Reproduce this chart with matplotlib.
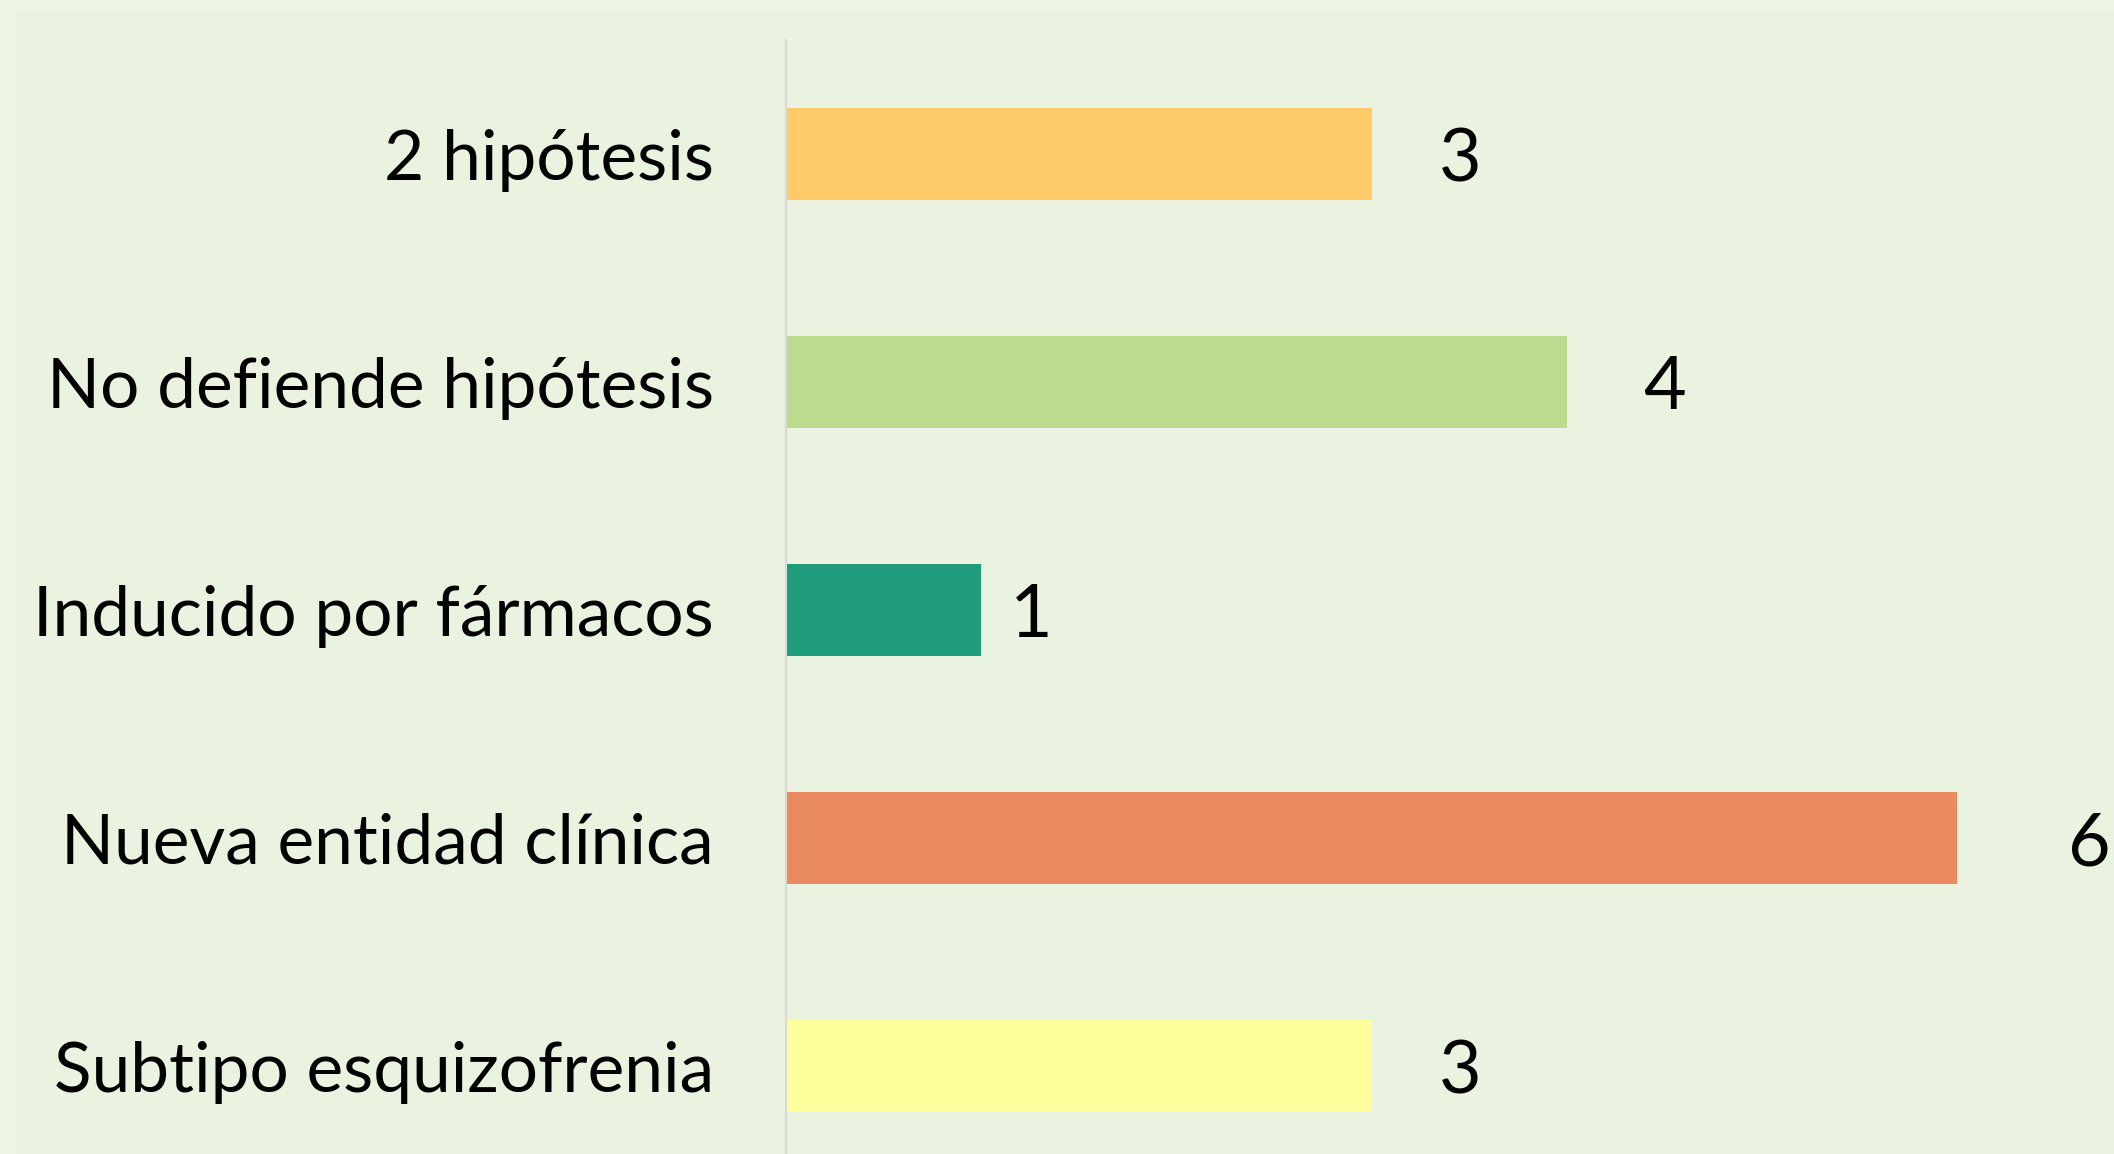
import matplotlib
matplotlib.use('Agg')
import matplotlib.pyplot as plt
from matplotlib.patches import Rectangle

# Chart data (top to bottom)
categories = ['2 hipótesis', 'No defiende hipótesis', 'Inducido por fármacos',
              'Nueva entidad clínica', 'Subtipo esquizofrenia']
values = [3, 4, 1, 6, 3]
colors = ['#FFCA67', '#BBDC8F', '#1E9C7C', '#E98A60', '#FDFD9B']

# label offsets from bar end (pixels), as placed in the original
label_offsets = [89, 98, 50, 132, 89]

plt.rcParams['font.family'] = ['Lato', 'DejaVu Sans']

fig = plt.figure(figsize=(21.14, 11.54), dpi=100)
fig.patch.set_facecolor('#EDF5E4')
# inner panel background
fig.add_artist(Rectangle((17 / 2114, 0), 1 - 17 / 2114, 1 - 10 / 1154,
                         transform=fig.transFigure, facecolor='#EAF3DF',
                         edgecolor='none', zorder=-5))

ax = fig.add_axes([786 / 2114, -26 / 1154, 6.8 * 195.2 / 2114, 1140 / 1154])
ax.set_facecolor('none')

pos = list(range(len(categories)))
ax.barh(pos, values, height=0.4, color=colors, zorder=2)
ax.set_ylim(-0.5, len(categories) - 0.5)
ax.invert_yaxis()
ax.set_xlim(0, 6.8)

ax.set_yticks(pos)
ax.set_yticklabels(categories, fontsize=50)
ax.tick_params(axis='y', length=0, pad=72 * 0.72)
ax.set_xticks([])

for s in ['top', 'right', 'bottom']:
    ax.spines[s].set_visible(False)
ax.spines['left'].set_color('#D9D9D9')
ax.spines['left'].set_linewidth(1.5)

for p, v, off in zip(pos, values, label_offsets):
    ax.annotate(str(v), xy=(v, p), xytext=(off * 0.72, -27 * 0.72),
                textcoords='offset points', ha='center', va='baseline',
                fontsize=53, color='black')

fig.savefig('out.png', dpi=100, facecolor=fig.get_facecolor())
